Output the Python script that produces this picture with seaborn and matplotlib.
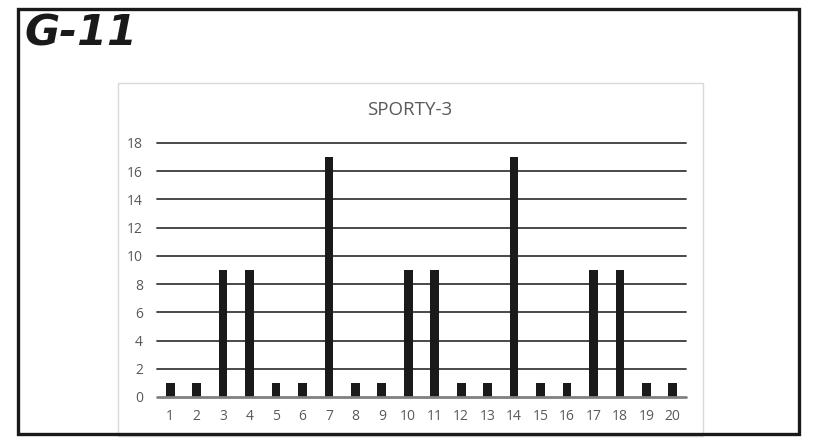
import numpy as np
import pandas as pd
import matplotlib
matplotlib.use("Agg")
import matplotlib.pyplot as plt
from matplotlib.patches import Rectangle
import seaborn as sns

# values
categories = [str(i) for i in range(1, 21)]
counts = [1, 1, 9, 9, 1, 1, 17, 1, 1, 9, 9, 1, 1, 17, 1, 1, 9, 9, 1, 1]
yticks = [0, 2, 4, 6, 8, 10, 12, 14, 16, 18]

sns.set_theme(style="white")
plt.rcParams['font.family'] = ['Open Sans', 'DejaVu Sans']

W, H = 815, 447
fig = plt.figure(figsize=(W / 100, H / 100), dpi=100)

def fx(px):
    return px / W

def fy(py):
    return 1 - py / H

# outer black frame
fig.patches.append(Rectangle((fx(18), fy(434)), fx(799) - fx(18), fy(9) - fy(434),
                             transform=fig.transFigure, fill=False,
                             edgecolor="#1a1a1a", lw=2.4, zorder=5))
# inner light chart box
fig.patches.append(Rectangle((fx(118), fy(436)), fx(703) - fx(118), fy(83) - fy(436),
                             transform=fig.transFigure, fill=False,
                             edgecolor="#d9d9d9", lw=1.0, zorder=1))

fig.text(fx(24), fy(33), "G-11", fontsize=31, fontweight="bold", fontstyle="italic",
         family=["DejaVu Sans"], color="#1a1a1a", va="center", ha="left")

ax = fig.add_axes([fx(157), fy(397), fx(686) - fx(157), fy(143) - fy(397)])
df = pd.DataFrame({"cat": categories, "count": counts})
sns.barplot(data=df, x="cat", y="count", color="#1a1a1a", saturation=1,
            width=0.33, ax=ax, zorder=3, linewidth=0)

for v in yticks[1:]:
    ax.axhline(v, color="#3a3a3a", lw=1.3, zorder=1, clip_on=False)
ax.axhline(0, color="#808080", lw=2.0, zorder=4, clip_on=False)

ax.set_ylim(0, 18)
ax.set_xlim(-0.5, len(categories) - 0.5)
ax.set_yticks(yticks)
ax.set_xlabel("")
ax.set_ylabel("")
for s in ax.spines.values():
    s.set_visible(False)
ax.patch.set_alpha(0)
ax.tick_params(axis="both", length=0, labelsize=10, labelcolor="#595959")
ax.tick_params(axis="y", pad=10)
ax.tick_params(axis="x", pad=9)

fig.text(fx(410), fy(110), "SPORTY-3", fontsize=13.5, color="#595959",
         ha="center", va="center")

fig.savefig("out.png", dpi=100, facecolor="white")
